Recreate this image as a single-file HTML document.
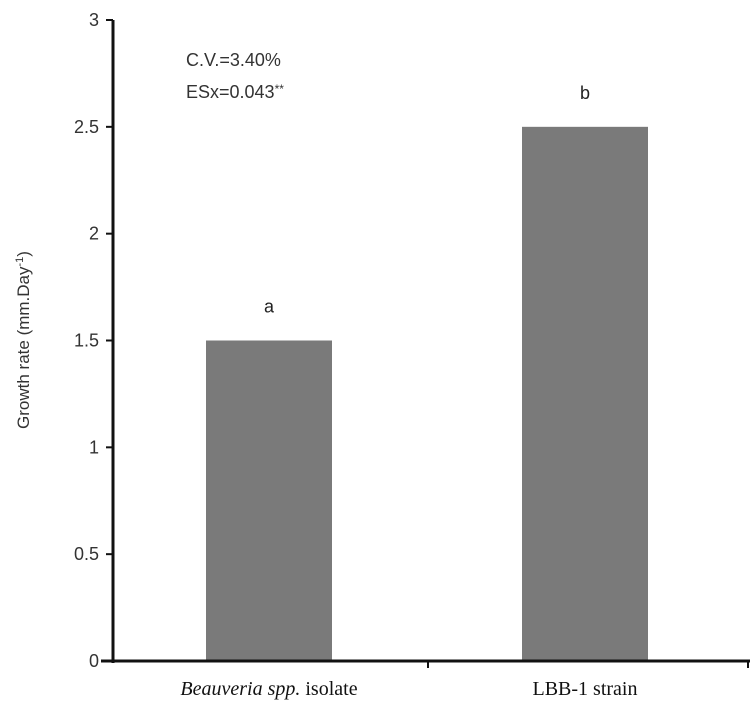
<!DOCTYPE html>
<html><head><meta charset="utf-8"><style>
body{margin:0;background:#fff}
svg{display:block;font-family:"Liberation Sans",sans-serif}
</style></head><body>
<svg id="chart" width="751" height="713"></svg>
<script>
const categories = ["Beauveria spp. isolate", "LBB-1 strain"];
const values = [1.5, 2.5];
const letters = ["a", "b"];
const yTicks = [0, 0.5, 1, 1.5, 2, 2.5, 3];
const yTickLabels = ["0", "0.5", "1", "1.5", "2", "2.5", "3"];

const NS = "http://www.w3.org/2000/svg";
const svg = document.getElementById("chart");
const x0 = 113, x1 = 745, y0 = 661, yTop = 20, yMax = 3;
const y = v => y0 - (v / yMax) * (y0 - yTop);
const band = (x1 - x0) / categories.length;
const xc = i => x0 + band * (i + 0.5) - 2;
function el(tag, attrs, text) {
  const e = document.createElementNS(NS, tag);
  for (const k in attrs) e.setAttribute(k, attrs[k]);
  if (text !== undefined) e.textContent = text;
  svg.appendChild(e);
  return e;
}
values.forEach((v, i) => {
  const b = el("rect", {x: xc(i) - 63, y: y(v), width: 126, height: y0 - y(v), fill: "#7a7a7a"});
  
  
  const t = el("text", {x: xc(i), y: y(v) - 28, "font-size": 18, "text-anchor": "middle", fill: "#222"}, letters[i]);
  
  
});
const ya = el("line", {x1: x0, y1: yTop, x2: x0, y2: y0 + 2, stroke: "#111", "stroke-width": 3});


yTicks.forEach((v, i) => {
  const tk = el("line", {x1: x0 - 7, y1: y(v), x2: x0, y2: y(v), stroke: "#111", "stroke-width": 2});
  
  
  const lb = el("text", {x: x0 - 14, y: y(v) + 6, "font-size": 18, "text-anchor": "end", fill: "#333"}, yTickLabels[i]);
  
  
});
const xa = el("line", {x1: x0 - 12, y1: y0, x2: 750, y2: y0, stroke: "#111", "stroke-width": 3});


[x0 + band - 1, 748].forEach(px => {
  const tk = el("line", {x1: px, y1: y0, x2: px, y2: y0 + 7, stroke: "#111", "stroke-width": 2});
  
  
});
const l1 = el("text", {x: xc(0), y: 695, "font-size": 20, "text-anchor": "middle", "font-family": "Liberation Serif, serif", fill: "#111"});
l1.innerHTML = '<tspan font-style="italic">Beauveria spp.</tspan> isolate';


const l2 = el("text", {x: xc(1), y: 695, "font-size": 20, "text-anchor": "middle", "font-family": "Liberation Serif, serif", fill: "#111"}, categories[1]);


const yt = el("text", {transform: "translate(29,340) rotate(-90)", "font-size": 17, "text-anchor": "middle", fill: "#333"});
yt.innerHTML = 'Growth rate (mm.Day<tspan dy="-6" font-size="11">-1</tspan><tspan dy="6">)</tspan>';


const a1 = el("text", {x: 186, y: 66, "font-size": 18, fill: "#333"}, "C.V.=3.40%");


const a2 = el("text", {x: 186, y: 98, "font-size": 18, fill: "#333"});
a2.innerHTML = 'ESx=0.043<tspan dy="-5" font-size="12">**</tspan>';


</script>
</body></html>
